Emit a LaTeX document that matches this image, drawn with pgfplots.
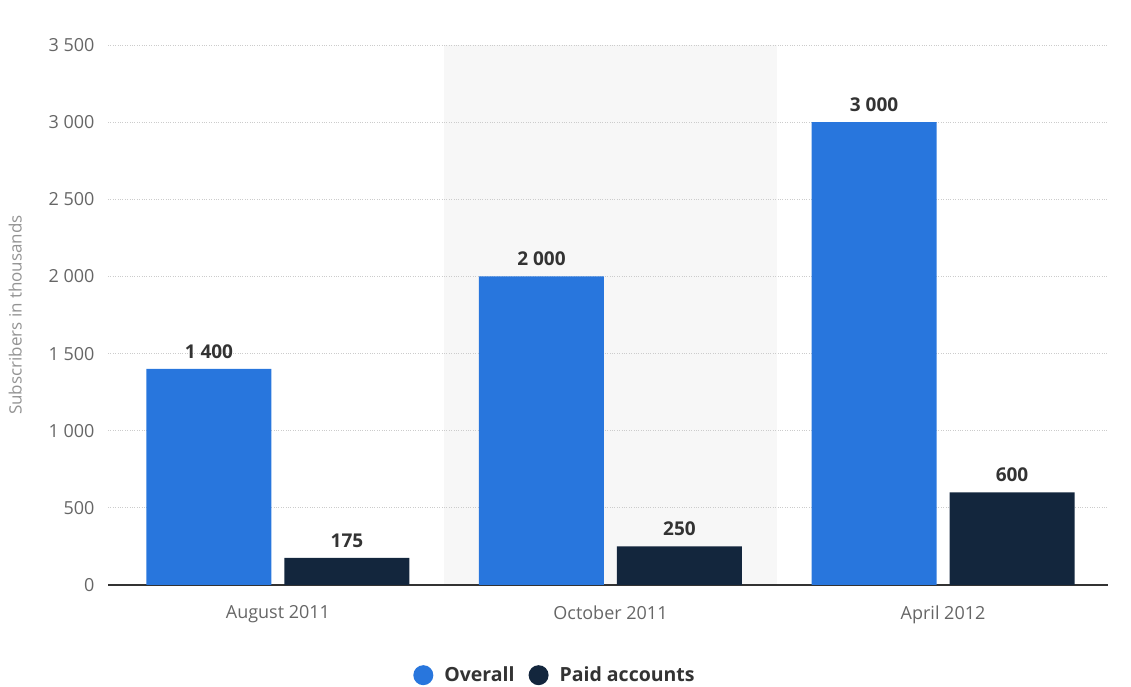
\documentclass[border=0pt]{standalone}
\usepackage{fontspec}
\setmainfont{Open Sans}
\usepackage{pgfplots}
\pgfplotsset{compat=1.18}
\definecolor{cblue}{HTML}{2876DD}
\definecolor{cnavy}{HTML}{13263D}
\definecolor{tickgray}{HTML}{666666}
\definecolor{labgray}{HTML}{333333}
\definecolor{band}{HTML}{F7F7F7}
\begin{document}
\begin{tikzpicture}
\begin{axis}[
  set layers=standard,
  at={(108pt,102pt)}, anchor=south west,
  scale only axis, width=1000pt, height=540pt,
  xmin=-0.511, xmax=2.496, ymin=0, ymax=3500,
  axis x line*=bottom, axis y line*=left,
  y axis line style={draw=none},
  x axis line style={draw=labgray, line width=1.2pt, -},
  major tick length=0pt,
  ytick={0,500,...,3500},
  xtick={0,1,2},
  xticklabels={August 2011,October 2011,April 2012},
  ymajorgrids,
  grid style={dotted, gray!40, line width=0.9pt},
  tick label style={font=\fontsize{18}{21}\selectfont, text=tickgray},
  yticklabel style={xshift=-10pt},
  xticklabel style={yshift=-17pt},
  /pgf/number format/.cd, 1000 sep={\ }, assume math mode=true, /pgfplots/.cd,
  ylabel={Subscribers in thousands},
  ylabel style={font=\fontsize{17}{20}\selectfont, text=gray!85, yshift=20pt},
  every node near coord/.append style={font=\bfseries\fontsize{19}{22}\selectfont, text=labgray, yshift=7pt},
  legend columns=2,
  legend style={draw=none, at={(0.447,-0.167)}, anchor=center,
    font=\bfseries\fontsize{19.5}{23}\selectfont, text=labgray,
    /tikz/every even column/.append style={column sep=12pt}},
]
\addplot[draw=none, fill=band, forget plot, on layer=axis background]
  coordinates {(0.5,0) (0.5,3500) (1.5,3500) (1.5,0)} -- cycle;
\addplot[ybar, bar width=125pt, bar shift=-69pt, fill=cblue, draw=none, nodes near coords,
  every node near coord/.append style={xshift=-69pt},
  legend image code/.code={\fill[cblue] (0pt,0pt) circle (10pt);}]
  coordinates {(0,1400) (1,2000) (2,3000)};
\addplot[ybar, bar width=125pt, bar shift=69pt, fill=cnavy, draw=none, nodes near coords,
  every node near coord/.append style={xshift=69pt},
  legend image code/.code={\fill[cnavy] (0pt,0pt) circle (10pt);}]
  coordinates {(0,175) (1,250) (2,600)};
\legend{\hspace{9pt}Overall, \hspace{9pt}Paid accounts}
\end{axis}
\pgfresetboundingbox
\path (0pt,0pt) rectangle (1131pt,687pt);
\end{tikzpicture}
\end{document}
